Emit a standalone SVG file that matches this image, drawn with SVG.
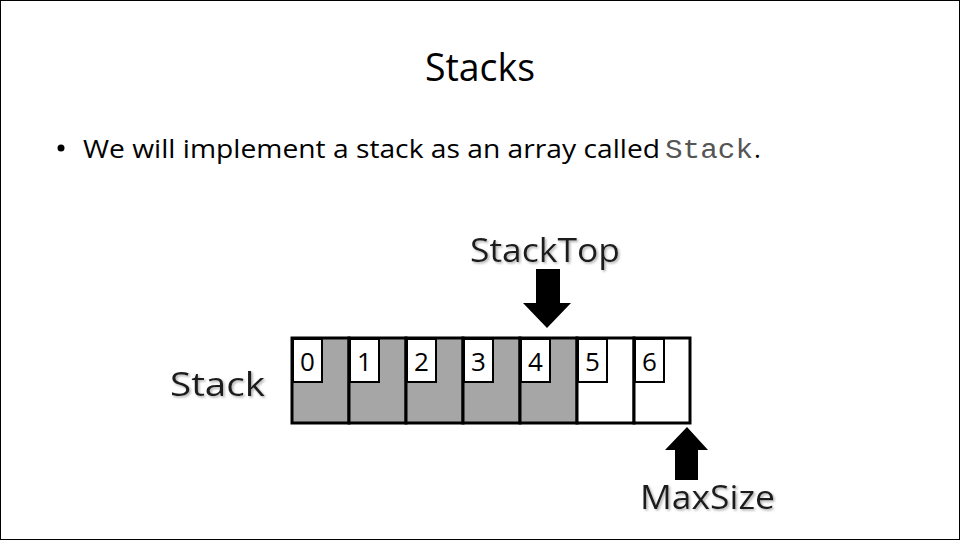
<svg xmlns="http://www.w3.org/2000/svg" width="960" height="540" viewBox="0 0 960 540">
<defs>
<style>
.title{font-family:"Open Sans","Liberation Sans",sans-serif;font-size:38px;fill:#000}
.body{font-family:"Open Sans","Liberation Sans",sans-serif;font-size:26px;fill:#000}
.mono{font-family:"Liberation Mono",monospace;font-size:27px;fill:#555}
.lbl{font-family:"Open Sans","Liberation Sans",sans-serif;font-size:32px;fill:#1a1a1a;filter:url(#sh)}
.idx{font-family:"Open Sans","Liberation Sans",sans-serif;font-size:26px;fill:#000}
.full{fill:#a6a6a6;stroke:#000;stroke-width:3}
.empty{fill:#fff;stroke:#000;stroke-width:3}
.ibox{fill:#fff;stroke:#000;stroke-width:2}
.arrow{fill:#000}
</style>
<filter id="sh" x="-10%" y="-20%" width="130%" height="150%">
<feDropShadow dx="1.5" dy="1.5" stdDeviation="1" flood-color="#999" flood-opacity="0.8"/>
</filter>
</defs>
<rect x="0.5" y="0.5" width="959" height="539" fill="#fff" stroke="#000" stroke-width="1"/>
<text class="title" x="480" y="81" text-anchor="middle" textLength="110" lengthAdjust="spacingAndGlyphs">Stacks</text>
<g id="bullet">
<circle cx="61" cy="148" r="3.5" fill="#000"/>
<text class="body" x="83" y="158" textLength="577" lengthAdjust="spacingAndGlyphs">We will implement a stack as an array called</text>
<text class="mono" x="665" y="158" textLength="88" lengthAdjust="spacingAndGlyphs">Stack</text>
<text class="body" x="754" y="158">.</text>
</g>
<g id="stack-label"><text class="lbl" x="170" y="396" textLength="95" lengthAdjust="spacingAndGlyphs">Stack</text></g>
<g id="array">
<g id="cell0"><rect class="full" x="292" y="338" width="57" height="85"/><rect class="ibox" x="293" y="339" width="29" height="43"/><text class="idx" x="307.5" y="371" text-anchor="middle">0</text></g>
<g id="cell1"><rect class="full" x="349" y="338" width="57" height="85"/><rect class="ibox" x="350" y="339" width="29" height="43"/><text class="idx" x="364.5" y="371" text-anchor="middle">1</text></g>
<g id="cell2"><rect class="full" x="406" y="338" width="57" height="85"/><rect class="ibox" x="407" y="339" width="29" height="43"/><text class="idx" x="421.5" y="371" text-anchor="middle">2</text></g>
<g id="cell3"><rect class="full" x="463" y="338" width="57" height="85"/><rect class="ibox" x="464" y="339" width="29" height="43"/><text class="idx" x="478.5" y="371" text-anchor="middle">3</text></g>
<g id="cell4"><rect class="full" x="520" y="338" width="57" height="85"/><rect class="ibox" x="521" y="339" width="29" height="43"/><text class="idx" x="535.5" y="371" text-anchor="middle">4</text></g>
<g id="cell5"><rect class="empty" x="577" y="338" width="57" height="85"/><rect class="ibox" x="578" y="339" width="29" height="43"/><text class="idx" x="592.5" y="371" text-anchor="middle">5</text></g>
<g id="cell6"><rect class="empty" x="634" y="338" width="56" height="85"/><rect class="ibox" x="635" y="339" width="29" height="43"/><text class="idx" x="649.5" y="371" text-anchor="middle">6</text></g>
</g>
<g id="stacktop"><text class="lbl" x="470" y="262" textLength="150" lengthAdjust="spacingAndGlyphs">StackTop</text></g>
<g id="maxsize"><text class="lbl" x="640" y="509" textLength="135" lengthAdjust="spacingAndGlyphs">MaxSize</text></g>
<g id="connectors">
<polygon class="arrow" points="536,269 560,269 560,303 571,303 547,328 523,303 536,303"/>
<polygon class="arrow" points="675,480 698,480 698,450 708,450 687,427 665,450 675,450"/>
</g>
</svg>
